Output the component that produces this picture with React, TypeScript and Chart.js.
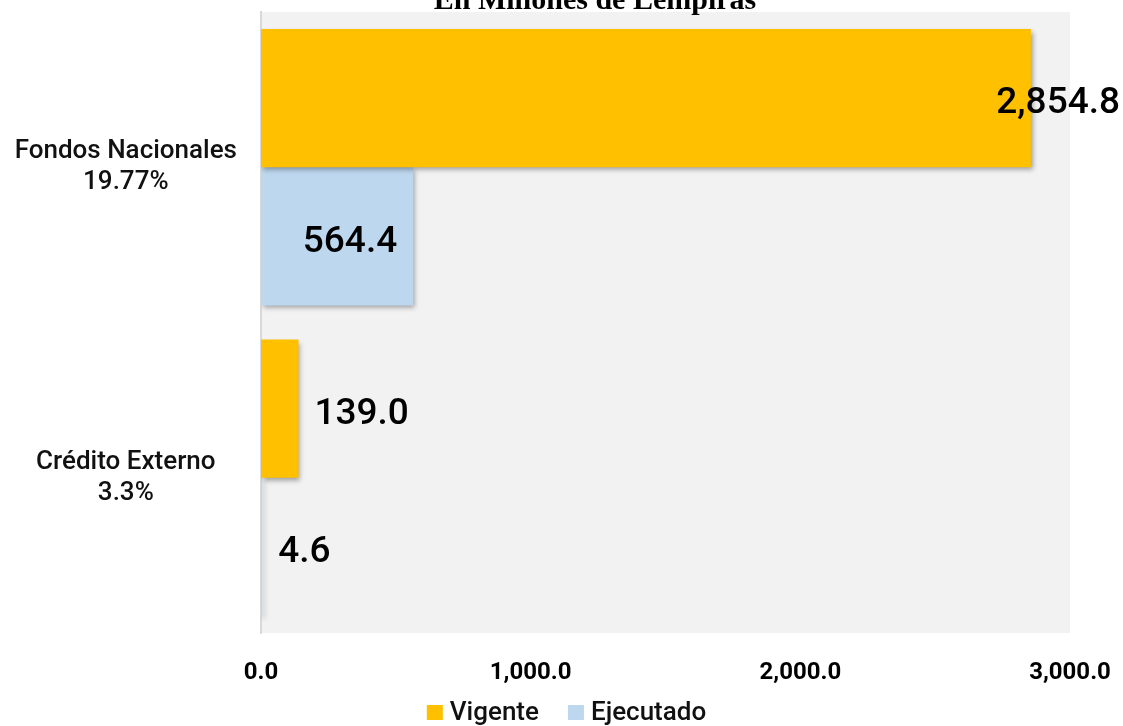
import React, { useEffect, useRef } from 'react';
import { Chart, registerables } from 'chart.js';

Chart.register(...registerables);

const categories = [['Fondos Nacionales', '19.77%'], ['Crédito Externo', '3.3%']];
const seriesNames = ['Vigente', 'Ejecutado'];
const vigente = [2854.8, 139.0];
const ejecutado = [564.4, 4.6];
const xMin = 0;
const xMax = 3000;
const xStep = 1000;
const titleText = 'En Millones de Lempiras';

const fmt = (v: number) =>
  v.toLocaleString('en-US', { minimumFractionDigits: 1, maximumFractionDigits: 1 });

const FONT = 'Roboto, "Noto Sans", sans-serif';

const bgPlugin = {
  id: 'bgPlugin',
  beforeDraw(chart: any) {
    const { ctx, chartArea } = chart;
    ctx.save();
    ctx.fillStyle = '#f2f2f2';
    ctx.fillRect(chartArea.left, chartArea.top, chartArea.right - chartArea.left, chartArea.bottom - chartArea.top);
    ctx.restore();
  },
  afterDraw(chart: any) {
    const { ctx } = chart;
    ctx.save();
    // title (partly cut off at the top, as in the reference)
    ctx.font = 'bold 30px "Liberation Serif", serif';
    ctx.fillStyle = '#000';
    ctx.textAlign = 'center';
    ctx.textBaseline = 'alphabetic';
    ctx.fillText(titleText, 595, 9);

    // legend
    ctx.font = `500 26px ${FONT}`;
    const boxW = 16;
    const boxH = 15;
    const boxGap = 7;
    const itemGap = 29;
    const items = chart.data.datasets.map((ds: any) => ({
      label: ds.label,
      color: ds.backgroundColor,
      w: boxW + boxGap + ctx.measureText(ds.label).width,
    }));
    const total = items.reduce((a: number, it: any) => a + it.w, 0) + itemGap * (items.length - 1);
    let x = 566.5 - total / 2;
    const baseY = 720;
    items.forEach((it: any) => {
      ctx.fillStyle = it.color;
      ctx.fillRect(x, baseY - boxH, boxW, boxH);
      ctx.fillStyle = '#111';
      ctx.textAlign = 'left';
      ctx.fillText(it.label, x + boxW + boxGap, baseY);
      x += it.w + itemGap;
    });
    ctx.restore();
  },
};

const shadowLabelPlugin = {
  id: 'shadowLabelPlugin',
  beforeDatasetsDraw(chart: any) {
    const ctx = chart.ctx;
    ctx.save();
    ctx.shadowColor = 'rgba(0,0,0,0.35)';
    ctx.shadowBlur = 5;
    ctx.shadowOffsetX = 2;
    ctx.shadowOffsetY = 3;
  },
  afterDatasetsDraw(chart: any) {
    const ctx = chart.ctx;
    ctx.restore();
    ctx.save();
    ctx.font = `500 37px ${FONT}`;
    ctx.fillStyle = '#000';
    ctx.textBaseline = 'middle';
    const pad = 16;
    const rightLimit = chart.width - 3;
    chart.data.datasets.forEach((ds: any, di: number) => {
      const meta = chart.getDatasetMeta(di);
      meta.data.forEach((el: any, i: number) => {
        const v = ds.data[i];
        const text = fmt(v);
        const w = ctx.measureText(text).width;
        const barW = el.x - el.base;
        let x: number;
        let inside = false;
        if (di === 1 && w + pad * 2 < barW) inside = true;
        if (inside) {
          ctx.textAlign = 'right';
          x = el.x - pad;
        } else {
          x = el.x + pad;
          if (x + w > rightLimit) x = rightLimit - w;
          ctx.textAlign = 'left';
        }
        ctx.fillText(text, x, el.y + 6);
      });
    });
    ctx.restore();
  },
};

export default function App() {
  const ref = useRef<HTMLCanvasElement | null>(null);
  useEffect(() => {
    document.body.style.margin = '0';
    const canvas = ref.current!;
    const chart = new Chart(canvas, {
      type: 'bar',
      data: {
        labels: categories,
        datasets: [
          { label: seriesNames[0], data: vigente, backgroundColor: '#FFC000', borderWidth: 0 },
          { label: seriesNames[1], data: ejecutado, backgroundColor: '#BDD7EE', borderWidth: 0 },
        ],
      },
      options: {
        indexAxis: 'y',
        responsive: false,
        animation: false,
        events: [],
        datasets: { bar: { categoryPercentage: 0.89, barPercentage: 1.0 } },
        layout: { padding: { top: 12, right: 53, left: 0, bottom: 38 } },
        scales: {
          x: {
            min: xMin,
            max: xMax,
            grid: { display: false, drawTicks: false },
            border: { display: false },
            ticks: {
              stepSize: xStep,
              padding: 26,
              color: '#000',
              font: { family: FONT, size: 24, weight: 'bold' },
              callback: (v: any) => fmt(Number(v)),
            },
            afterFit: (s: any) => {
              s.height = 55;
              s.paddingLeft = 0;
              s.paddingRight = 0;
            },
          },
          y: {
            grid: { display: false, drawTicks: false },
            border: { display: true, color: '#d9d9d9', width: 2 },
            ticks: {
              crossAlign: 'center',
              padding: 24,
              color: '#111',
              font: { family: FONT, size: 26, weight: '500', lineHeight: 1.2 },
            },
            afterFit: (s: any) => {
              s.width = 261;
              s.paddingTop = 0;
              s.paddingBottom = 0;
            },
          },
        },
        plugins: {
          legend: { display: false },
          title: { display: false },
          tooltip: { enabled: false },
        },
      },
      plugins: [bgPlugin, shadowLabelPlugin],
    } as any);
    return () => chart.destroy();
  }, []);
  return (
    <div style={{ position: 'absolute', left: 0, top: 0, width: 1123, height: 726, background: '#fff' }}>
      <canvas ref={ref} width={1123} height={726} style={{ width: 1123, height: 726, display: 'block' }} />
    </div>
  );
}
